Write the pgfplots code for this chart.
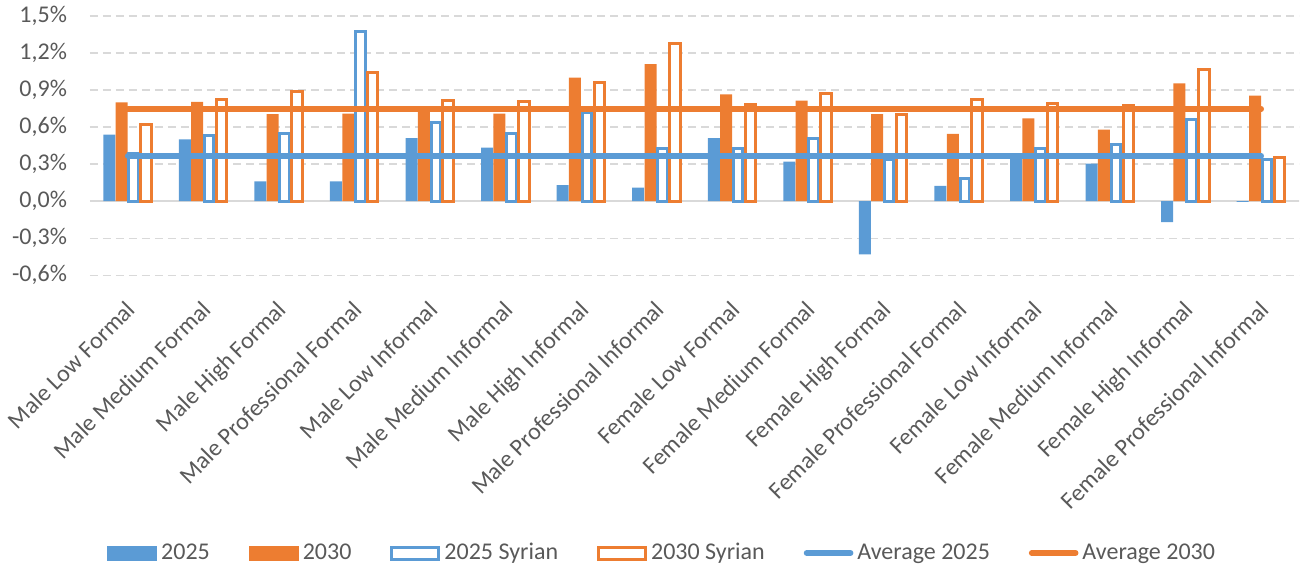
\documentclass[border=0pt]{standalone}
\usepackage{fontspec}
\setmainfont{Carlito}
\usepackage{pgfplots}
\usepackage{pgfplotstable}
\pgfplotsset{compat=1.18}
\definecolor{cblue}{HTML}{5B9BD5}
\definecolor{corange}{HTML}{ED7D31}
\definecolor{ctext}{HTML}{595959}
\definecolor{cgrid}{HTML}{D9D9D9}

% x = category index, a = 2025, b = 2030, c = 2025 Syrian, d = 2030 Syrian
\pgfplotstableread{
x a b c d
0 0.54 0.80 0.39 0.62
1 0.50 0.805 0.53 0.82
2 0.16 0.705 0.55 0.89
3 0.16 0.71 1.375 1.04
4 0.51 0.74 0.64 0.815
5 0.435 0.71 0.545 0.81
6 0.13 1.00 0.715 0.96
7 0.11 1.11 0.425 1.28
8 0.51 0.865 0.43 0.78
9 0.32 0.815 0.505 0.87
10 -0.43 0.705 0.335 0.70
11 0.125 0.545 0.185 0.825
12 0.36 0.67 0.43 0.795
13 0.305 0.58 0.46 0.775
14 -0.17 0.955 0.665 1.065
15 -0.005 0.855 0.34 0.355
}\bars

\pgfplotstableread{
x avga avgb
0 0.368 0.746
15 0.368 0.746
}\avg

\begin{document}
\begin{tikzpicture}
\path[use as bounding box] (-45pt,-148.35pt) rectangle (608pt,137.65pt);
\begin{axis}[
    scale only axis,
    width=604.5pt, height=129.65pt,
    xmin=-0.5, xmax=15.5,
    ymin=-0.6, ymax=1.5,
    xtick={0,...,15},
    xticklabels={Male Low Formal, Male Medium Formal, Male High Formal, Male Professional Formal,
        Male Low Informal, Male Medium Informal, Male High Informal, Male Professional Informal,
        Female Low Formal, Female Medium Formal, Female High Formal, Female Professional Formal,
        Female Low Informal, Female Medium Informal, Female High Informal, Female Professional Informal},
    ytick={-0.6,-0.3,0,0.3,0.6,0.9,1.2,1.5},
    yticklabel={\pgfmathprintnumber{\tick}\%},
    /pgf/number format/.cd, fixed, fixed zerofill, precision=1, use comma, assume math mode=true,
    /pgfplots/.cd,
    axis line style={draw=none},
    major tick length=0pt,
    ymajorgrids,
    grid style={cgrid, line width=0.75pt, dash pattern=on 4pt off 2.5pt},
    extra y ticks={0},
    extra y tick labels={},
    extra y tick style={grid style={solid, cgrid, line width=1pt}},
    tick label style={font=\fontsize{12}{14}\selectfont, text=ctext},
    yticklabel style={xshift=-8pt},
    xticklabel style={rotate=45, anchor=north east, xshift=-6pt, yshift=-4pt},
    legend columns=6,
    legend style={at={(0.474,-1.071)}, anchor=center, draw=none, fill=none,
        font=\fontsize{12}{14}\selectfont, text=ctext,
        /tikz/every even column/.append style={column sep=17.5pt}},
]
\addplot[ybar, bar width=6pt, bar shift=-9.25pt, fill=cblue, draw=none,
    legend image code/.code={\fill[cblue] (0pt,-3.75pt) rectangle (25pt,3.75pt);}]
    table[x=x, y=a] {\bars};
\addlegendentry{2025}
\addplot[ybar, bar width=6pt, bar shift=-3.1pt, fill=corange, draw=none,
    legend image code/.code={\fill[corange] (0pt,-3.75pt) rectangle (25pt,3.75pt);}]
    table[x=x, y=b] {\bars};
\addlegendentry{2030}
\addplot[ybar, bar width=4.75pt, bar shift=2.9pt, fill=white, draw=cblue, line width=1.5pt,
    legend image code/.code={\draw[cblue, fill=white, line width=1.5pt] (0.75pt,-3pt) rectangle (24.25pt,3pt);}]
    table[x=x, y=c] {\bars};
\addlegendentry{2025 Syrian}
\addplot[ybar, bar width=5.25pt, bar shift=9.1pt, fill=white, draw=corange, line width=1.5pt,
    legend image code/.code={\draw[corange, fill=white, line width=1.5pt] (0.75pt,-3pt) rectangle (24.25pt,3pt);}]
    table[x=x, y=d] {\bars};
\addlegendentry{2030 Syrian}
\addplot[cblue, line width=2.8pt, line cap=round, sharp plot, mark=none,
    legend image code/.code={\draw[cblue, line width=2.8pt, line cap=round] (1.5pt,0pt) -- (23.5pt,0pt);}]
    table[x=x, y=avga] {\avg};
\addlegendentry{Average 2025}
\addplot[corange, line width=2.8pt, line cap=round, sharp plot, mark=none,
    legend image code/.code={\draw[corange, line width=2.8pt, line cap=round] (1.5pt,0pt) -- (23.5pt,0pt);}]
    table[x=x, y=avgb] {\avg};
\addlegendentry{Average 2030}
\end{axis}
\end{tikzpicture}
\end{document}
